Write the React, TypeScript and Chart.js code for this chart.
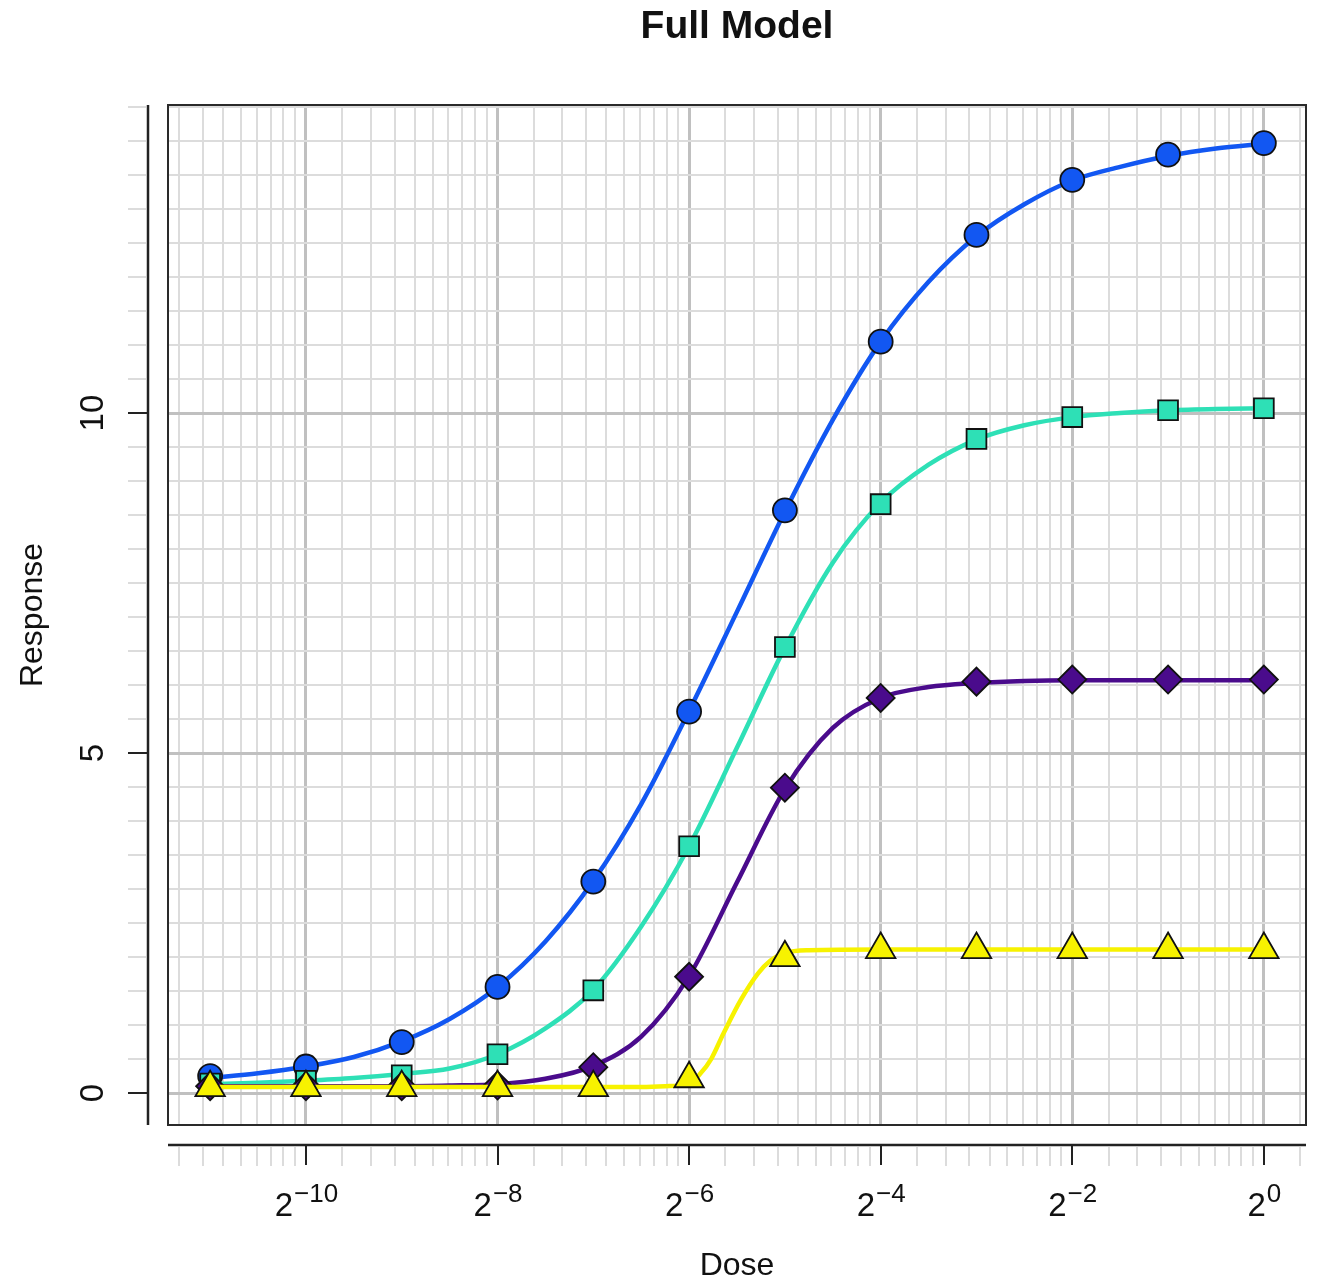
import React, { useEffect, useRef } from "react";
import { Chart, registerables } from "chart.js";

Chart.register(...registerables);

// ---- data ----
const doses = [
  0.00048828125, 0.0009765625, 0.001953125, 0.00390625, 0.0078125, 0.015625,
  0.03125, 0.0625, 0.125, 0.25, 0.5, 1,
];
const blueResponse = [0.25, 0.39, 0.75, 1.56, 3.11, 5.61, 8.57, 11.05, 12.62, 13.43, 13.8, 13.97];
const tealResponse = [0.14, 0.18, 0.26, 0.57, 1.51, 3.63, 6.56, 8.66, 9.62, 9.94, 10.04, 10.07];
const purpleResponse = [0.1, 0.1, 0.1, 0.11, 0.38, 1.71, 4.49, 5.81, 6.05, 6.08, 6.08, 6.08];
const yellowResponse = [0.08, 0.08, 0.08, 0.08, 0.08, 0.21, 1.99, 2.11, 2.11, 2.11, 2.11, 2.11];

// fitted curves, sampled (log2 dose -> response)
const curveLog2Dose = [
  -11, -10.5, -10, -9.5, -9, -8.5, -8, -7.5, -7, -6.5, -6, -5.5, -5, -4.5, -4, -3.5, -3, -2.5,
  -2, -1.5, -1, -0.5, 0,
];
const blueCurve = [
  0.22, 0.29, 0.39, 0.53, 0.76, 1.09, 1.56, 2.23, 3.12, 4.25, 5.62, 7.08, 8.55, 9.9, 11.05, 11.93,
  12.6, 13.07, 13.42, 13.62, 13.78, 13.89, 13.96,
];
const tealCurve = [
  0.13, 0.15, 0.18, 0.22, 0.28, 0.36, 0.57, 0.95, 1.52, 2.45, 3.63, 5.08, 6.55, 7.8, 8.68, 9.24,
  9.61, 9.82, 9.94, 10.0, 10.04, 10.06, 10.07,
];
const purpleCurve = [
  0.1, 0.1, 0.1, 0.1, 0.1, 0.11, 0.13, 0.21, 0.4, 0.83, 1.72, 3.1, 4.47, 5.37, 5.81, 5.97, 6.03,
  6.06, 6.07, 6.07, 6.07, 6.07, 6.07,
];
const yellowCurveLog2Dose = [-11, -7, -6.5, -6.25, -6, -5.88, -5.77, -5.64, -5.46, -5.28, -5.15, -5, -4.75, -4, 0];
const yellowCurve = [0.09, 0.09, 0.09, 0.1, 0.14, 0.29, 0.5, 0.88, 1.37, 1.76, 1.95, 2.06, 2.1, 2.11, 2.11];

const xTickExponents = [-10, -8, -6, -4, -2, 0];
const yTickLabels = [0, 5, 10];

const titleText = "Full Model";
const xTitle = "Dose";
const yTitle = "Response";

const BLUE = "#1257f2";
const TEAL = "#2ee0b6";
const PURPLE = "#4a0b8c";
const YELLOW = "#f7f200";

const X_MIN = Math.pow(2, -11.44);
const X_MAX = Math.pow(2, 0.44);
const Y_MIN = -0.47;
const Y_MAX = 14.53;

// grid positions: major at even powers of 2, minor at 2^a * (1 + 0.3k)
function xGridTicks() {
  const out: { value: number; major: boolean }[] = [];
  for (let a = -12; a <= 0; a += 2) {
    const base = Math.pow(2, a);
    for (let k = 0; k < 10; k++) {
      const v = base * (1 + 0.3 * k);
      if (v >= X_MIN && v <= X_MAX) out.push({ value: v, major: k === 0 });
    }
  }
  return out;
}
function yGridTicks() {
  const out: { value: number; major: boolean }[] = [];
  for (let i = 0; i <= 29; i++) {
    const v = i * 0.5;
    if (v <= Y_MAX) out.push({ value: v, major: i % 10 === 0 });
  }
  return out;
}

const MAJOR_GRID = "#c0c0c0";
const MINOR_GRID = "#dcdcdc";
const FONT = '"Liberation Sans", Arial, Helvetica, sans-serif';

const rAxesPlugin = {
  id: "rAxes",
  afterDraw(chart: any) {
    const ctx = chart.ctx as CanvasRenderingContext2D;
    const { left, right, top, bottom } = chart.chartArea;
    const xs = chart.scales.x;
    const ys = chart.scales.y;
    ctx.save();

    // plot box
    ctx.strokeStyle = "#2a2a2a";
    ctx.lineWidth = 2;
    ctx.strokeRect(left, top, right - left, bottom - top);

    // ---- left axis ----
    const axX = left - 20;
    ctx.strokeStyle = MINOR_GRID;
    ctx.lineWidth = 2;
    for (const t of yGridTicks()) {
      if (t.major) continue;
      const py = Math.round(ys.getPixelForValue(t.value));
      ctx.beginPath();
      ctx.moveTo(axX - 20, py);
      ctx.lineTo(axX - 2, py);
      ctx.stroke();
    }
    ctx.strokeStyle = "#222";
    ctx.lineWidth = 2.5;
    ctx.beginPath();
    ctx.moveTo(axX, top);
    ctx.lineTo(axX, bottom);
    ctx.stroke();
    ctx.lineWidth = 2;
    for (const v of yTickLabels) {
      const py = Math.round(ys.getPixelForValue(v));
      ctx.beginPath();
      ctx.moveTo(axX, py);
      ctx.lineTo(axX - 20, py);
      ctx.stroke();
    }
    ctx.fillStyle = "#111";
    ctx.font = `33px ${FONT}`;
    ctx.textAlign = "center";
    ctx.textBaseline = "alphabetic";
    for (const v of yTickLabels) {
      const py = ys.getPixelForValue(v);
      ctx.save();
      ctx.translate(103, py);
      ctx.rotate(-Math.PI / 2);
      ctx.fillText(String(v), 0, 0);
      ctx.restore();
    }

    // ---- bottom axis ----
    const axY = bottom + 20;
    ctx.strokeStyle = MINOR_GRID;
    ctx.lineWidth = 2;
    for (const t of xGridTicks()) {
      if (t.major) continue;
      const px = Math.round(xs.getPixelForValue(t.value));
      ctx.beginPath();
      ctx.moveTo(px, axY + 2);
      ctx.lineTo(px, axY + 21);
      ctx.stroke();
    }
    ctx.strokeStyle = "#222";
    ctx.lineWidth = 2.5;
    ctx.beginPath();
    ctx.moveTo(left, axY);
    ctx.lineTo(right, axY);
    ctx.stroke();
    ctx.lineWidth = 2;
    for (const e of xTickExponents) {
      const px = Math.round(xs.getPixelForValue(Math.pow(2, e)));
      ctx.beginPath();
      ctx.moveTo(px, axY);
      ctx.lineTo(px, axY + 20);
      ctx.stroke();
    }
    const baseFont = `33px ${FONT}`;
    const expFont = `26px ${FONT}`;
    ctx.textAlign = "left";
    for (const e of xTickExponents) {
      const px = xs.getPixelForValue(Math.pow(2, e));
      const baseTxt = "2";
      const expTxt = e < 0 ? "\u2212" + String(-e) : String(e);
      ctx.font = baseFont;
      const wb = ctx.measureText(baseTxt).width;
      ctx.font = expFont;
      const we = ctx.measureText(expTxt).width;
      const start = px - (wb + we) / 2;
      ctx.font = baseFont;
      ctx.fillText(baseTxt, start, 1216);
      ctx.font = expFont;
      ctx.fillText(expTxt, start + wb + 1, 1202);
    }

    // ---- titles ----
    const cx = (left + right) / 2;
    ctx.textAlign = "center";
    ctx.font = `bold 39px ${FONT}`;
    ctx.fillText(titleText, cx, 38);
    ctx.font = `32px ${FONT}`;
    ctx.fillText(xTitle, cx, 1275);
    ctx.save();
    ctx.translate(42, (top + bottom) / 2);
    ctx.rotate(-Math.PI / 2);
    ctx.fillText(yTitle, 0, 0);
    ctx.restore();

    ctx.restore();
  },
};

function curveData(xsLog2: number[], ys: number[]) {
  return xsLog2.map((e, i) => ({ x: Math.pow(2, e), y: ys[i] }));
}
function pointData(ys: number[]) {
  return doses.map((d, i) => ({ x: d, y: ys[i] }));
}

export default function App() {
  const ref = useRef<HTMLCanvasElement | null>(null);
  useEffect(() => {
    if (!ref.current) return;
    const lineDs = (data: any, color: string, order: number) => ({
      type: "line",
      data,
      borderColor: color,
      backgroundColor: color,
      borderWidth: 4.5,
      pointRadius: 0,
      pointHoverRadius: 0,
      fill: false,
      cubicInterpolationMode: "monotone",
      order,
    });
    const ptDs = (data: any, color: string, style: string, radius: number, order: number) => ({
      type: "line",
      data,
      showLine: false,
      pointStyle: style,
      pointRadius: radius,
      pointHoverRadius: radius,
      pointBackgroundColor: color,
      pointBorderColor: "#111",
      pointBorderWidth: 1.8,
      order,
    });
    const chart = new Chart(ref.current, {
      type: "line",
      data: {
        datasets: [
          lineDs(curveData(yellowCurveLog2Dose, yellowCurve), YELLOW, 2),
          ptDs(pointData(yellowResponse), YELLOW, "triangle", 17, 1),
          lineDs(curveData(curveLog2Dose, purpleCurve), PURPLE, 4),
          ptDs(pointData(purpleResponse), PURPLE, "rectRot", 14, 3),
          lineDs(curveData(curveLog2Dose, tealCurve), TEAL, 6),
          ptDs(pointData(tealResponse), TEAL, "rect", 14, 5),
          lineDs(curveData(curveLog2Dose, blueCurve), BLUE, 8),
          ptDs(pointData(blueResponse), BLUE, "circle", 12, 7),
        ] as any,
      },
      options: {
        animation: false,
        responsive: false,
        devicePixelRatio: 1,
        events: [],
        layout: { autoPadding: false, padding: { top: 105, right: 11, left: 0, bottom: 0 } },
        plugins: { legend: { display: false }, title: { display: false }, tooltip: { enabled: false } },
        scales: {
          x: {
            type: "logarithmic",
            min: X_MIN,
            max: X_MAX,
            bounds: "data",
            border: { display: false },
            ticks: { display: false },
            grid: {
              drawTicks: false,
              color: (c: any) => (c.tick && c.tick.major ? MAJOR_GRID : MINOR_GRID),
              lineWidth: (c: any) => (c.tick && c.tick.major ? 3 : 2),
            },
            afterBuildTicks: (scale: any) => {
              scale.ticks = xGridTicks();
            },
            afterFit: (scale: any) => {
              scale.height = 156;
            },
          },
          y: {
            type: "linear",
            min: Y_MIN,
            max: Y_MAX,
            bounds: "data",
            border: { display: false },
            ticks: { display: false },
            grid: {
              drawTicks: false,
              color: (c: any) => (c.tick && c.tick.major ? MAJOR_GRID : MINOR_GRID),
              lineWidth: (c: any) => (c.tick && c.tick.major ? 3 : 2),
            },
            afterBuildTicks: (scale: any) => {
              scale.ticks = yGridTicks();
            },
            afterFit: (scale: any) => {
              scale.width = 168;
            },
          },
        },
      } as any,
      plugins: [rAxesPlugin],
    });
    return () => chart.destroy();
  }, []);
  return (
    <div style={{ position: "absolute", left: 0, top: 0, width: 1317, height: 1281, background: "#fff" }}>
      <canvas ref={ref} width={1317} height={1281} style={{ display: "block" }} />
    </div>
  );
}
